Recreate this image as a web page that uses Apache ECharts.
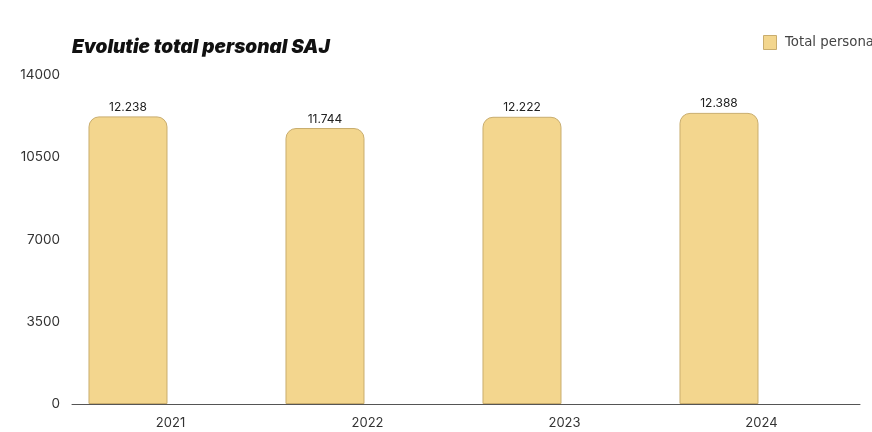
<!DOCTYPE html>
<html>
<head>
<meta charset="utf-8">
<script src="https://cdn.jsdelivr.net/npm/echarts@6/dist/echarts.min.js"></script>
<style>
html,body{margin:0;padding:0;background:#fff;}
#c{width:872px;height:432px;}
</style>
</head>
<body>
<div id="c"></div>
<script>
const categories = ['2021', '2022', '2023', '2024'];
const totalPersonal = [12238, 11744, 12222, 12388];
const yTicks = [0, 3500, 7000, 10500, 14000];
const seriesName = 'Total personal';

function fmt(v) {
  return String(v).replace(/\B(?=(\d{3})+(?!\d))/g, '.');
}

const chart = echarts.init(document.getElementById('c'), null, {renderer: 'canvas'});
chart.setOption({
  animation: false,
  backgroundColor: '#ffffff',
  title: {
    text: 'Evolutie total personal SAJ',
    left: 67, top: 33,
    textStyle: {fontFamily: 'Inter, sans-serif', fontSize: 19, fontWeight: 900, fontStyle: 'italic', color: '#111'}
  },
  legend: {show: false},
  graphic: [
    {type: 'rect', left: 763, top: 35, shape: {width: 13, height: 14},
     style: {fill: '#f3d68e', stroke: '#c9ad6e', lineWidth: 1}},
    {type: 'text', left: 785, top: 36,
     style: {text: seriesName, fill: '#444', fontFamily: '"DejaVu Sans", sans-serif', fontSize: 13.3}}
  ],
  grid: {left: 72, right: 12, top: 75, bottom: 28},
  xAxis: {
    type: 'category',
    data: categories,
    axisLine: {lineStyle: {color: '#555', width: 1}},
    axisTick: {show: false},
    axisLabel: {color: '#333', fontFamily: 'Inter, sans-serif', fontSize: 13, margin: 13}
  },
  yAxis: {
    type: 'value',
    min: yTicks[0], max: yTicks[yTicks.length - 1], interval: 3500,
    splitLine: {show: false},
    axisLine: {show: false},
    axisTick: {show: false},
    axisLabel: {color: '#333', fontFamily: 'Inter, sans-serif', fontSize: 13.5, margin: 12, formatter: v => String(v)}
  },
  series: [
    {
      name: seriesName,
      type: 'bar',
      data: totalPersonal,
      barWidth: 79,
      barGap: '7.6%',
      itemStyle: {color: '#f3d68e', borderColor: '#c9ad6e', borderWidth: 1, borderRadius: [10, 10, 0, 0]},
      label: {
        show: true, position: 'top', distance: 3,
        formatter: p => fmt(p.value),
        color: '#222', fontFamily: 'Inter, sans-serif', fontSize: 12
      }
    },
    {
      name: 'spacer',
      type: 'bar',
      data: categories.map(() => '-'),
      barWidth: 79
    }
  ]
});
</script>
</body>
</html>
